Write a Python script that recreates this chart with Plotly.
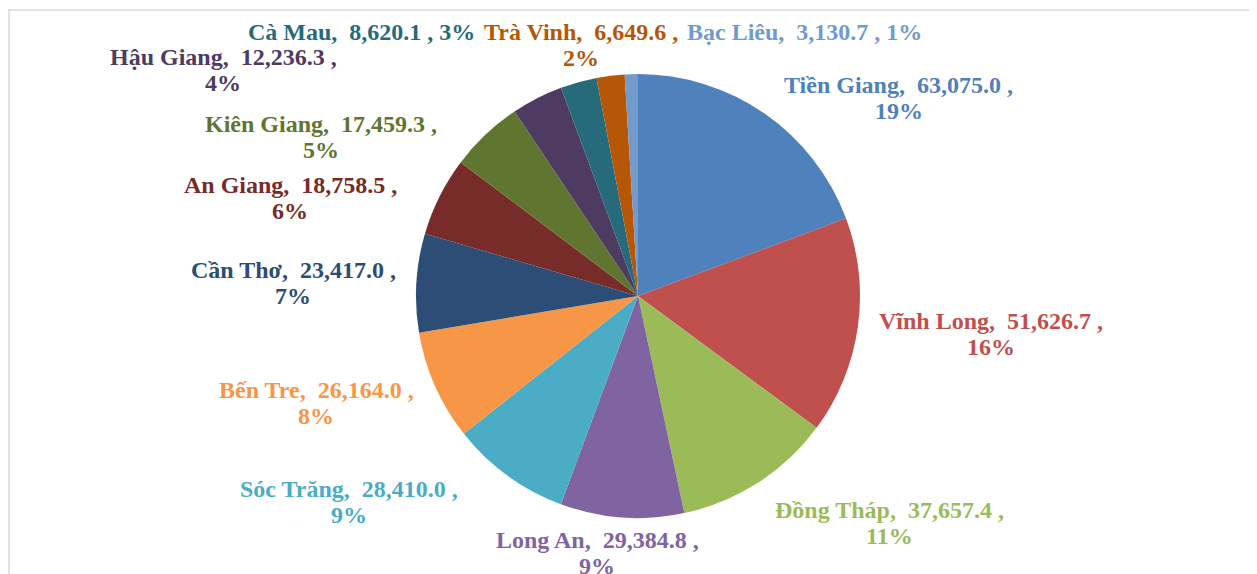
import plotly.graph_objects as go

W, H = 1257, 574
OFF = 8  # page body margin

provinces = ["Tiền Giang", "Vĩnh Long", "Đồng Tháp", "Long An", "Sóc Trăng", "Bến Tre",
             "Cần Thơ", "An Giang", "Kiên Giang", "Hậu Giang", "Cà Mau", "Trà Vinh", "Bạc Liêu"]
values = [63075.0, 51626.7, 37657.4, 29384.8, 28410.0, 26164.0,
          23417.0, 18758.5, 17459.3, 12236.3, 8620.1, 6649.6, 3130.7]
pct_labels = ["19%", "16%", "11%", "9%", "9%", "8%", "7%", "6%", "5%", "4%", "3%", "2%", "1%"]
colors = ["#4F81BD", "#C0504D", "#9BBB59", "#8064A2", "#4BACC6", "#F79646",
          "#2C4D75", "#772C2A", "#5F7530", "#4D3B62", "#276A7C", "#B65708", "#729ACA"]

# label layout in screen px: (center x, first line center y, single line?)
label_pos = [(899, 85, False), (991, 321, False), (889, 510, False), (597, 540, False),
             (349, 489, False), (316, 390, False), (293, 270, False), (290, 185, False),
             (321, 124, False), (223, 57, False), (361, 32, True), (581, 32, False),
             (805, 32, True)]
LINE = 26

NB = "\u00a0"


def px(x):
    return (x - OFF) / W


def py(y):
    return 1 - (y - OFF) / H


fig = go.Figure()
cx, cy, r = 638, 296, 222
fig.add_trace(go.Pie(
    labels=provinces, values=values, sort=False, direction="clockwise", rotation=0,
    marker=dict(colors=colors, line=dict(width=0)),
    textinfo="none", hoverinfo="label+value+percent", showlegend=False,
    domain=dict(x=[px(cx - r), px(cx + r)], y=[py(cy + r), py(cy - r)]),
))

font_base = dict(family="Liberation Serif", size=24, weight="bold")
for name, v, p, col, (x, y, single) in zip(provinces, values, pct_labels, colors, label_pos):
    head = f"{name},{NB}{NB}{v:,.1f}{NB},"
    lines = [f"{head}{NB}{p}"] if single else [head, p]
    for i, t in enumerate(lines):
        fig.add_annotation(x=px(x), y=py(y + i * LINE), xref="paper", yref="paper", text=t,
                           showarrow=False, xanchor="center", yanchor="middle", align="center",
                           font=dict(color=col, **font_base))

# chart frame
fig.add_shape(type="line", xref="paper", yref="paper", x0=px(8), x1=1, y0=py(10), y1=py(10),
              line=dict(color="#D9D9D9", width=1.5))
fig.add_shape(type="line", xref="paper", yref="paper", x0=px(9), x1=px(9), y0=0, y1=py(10),
              line=dict(color="#D9D9D9", width=1.5))

fig.update_layout(width=W, height=H, margin=dict(l=0, r=0, t=0, b=0),
                  paper_bgcolor="white", plot_bgcolor="white")
fig.write_html("out.html")
